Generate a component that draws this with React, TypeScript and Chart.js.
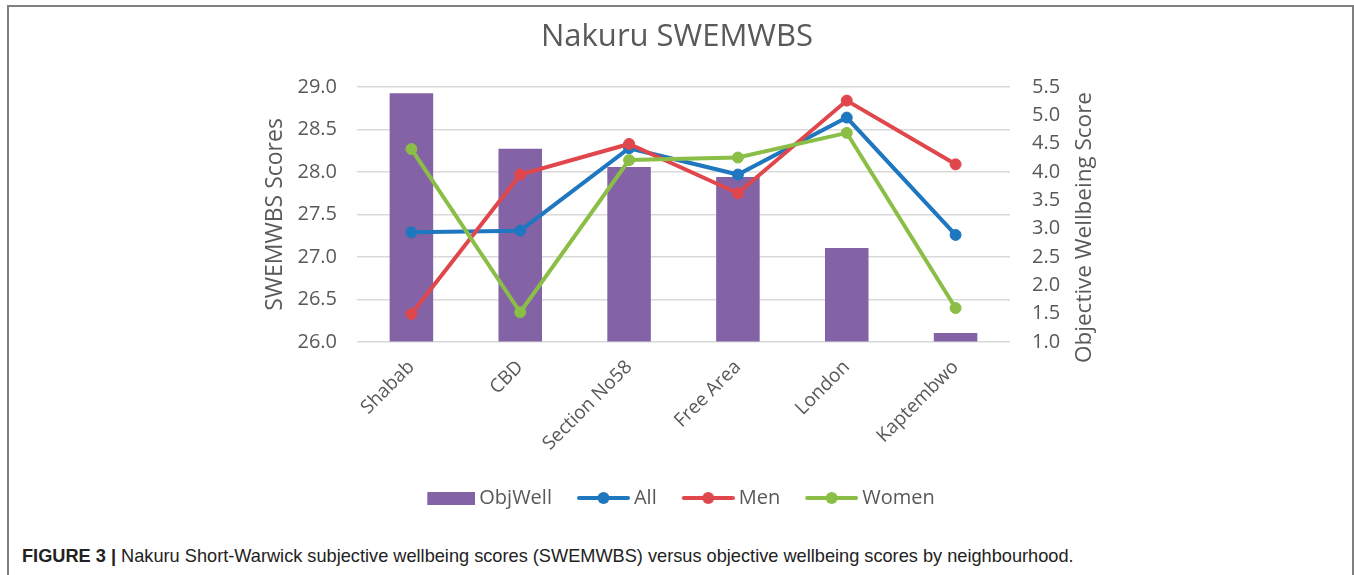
import React, { useEffect, useRef } from 'react';
import { Chart, registerables } from 'chart.js';

Chart.register(...registerables);

const categories = ['Shabab', 'CBD', 'Section No58', 'Free Area', 'London', 'Kaptembwo'];
const objWell = [5.39, 4.41, 4.09, 3.91, 2.66, 1.16];
const allScores = [27.29, 27.31, 28.28, 27.97, 28.64, 27.26];
const menScores = [26.33, 27.97, 28.33, 27.75, 28.84, 28.09];
const womenScores = [28.27, 26.35, 28.14, 28.17, 28.46, 26.4];
const leftTicks = [26.0, 26.5, 27.0, 27.5, 28.0, 28.5, 29.0];
const rightTicks = [1.0, 1.5, 2.0, 2.5, 3.0, 3.5, 4.0, 4.5, 5.0, 5.5];

const PURPLE = '#8462a6';
const BLUE = '#1f77c0';
const RED = '#e0474c';
const GREEN = '#8bbe46';
const TEXT = '#595959';
const FONT = "'Open Sans', sans-serif";
const RIGHT_TITLE = 'Objective Wellbeing Score';

function makeMarker(kind: string, color: string, totalW: number, markerW: number, h: number) {
  const c = document.createElement('canvas');
  c.width = totalW;
  c.height = h;
  const ctx = c.getContext('2d')!;
  const x0 = totalW - markerW;
  if (kind === 'bar') {
    ctx.fillStyle = color;
    ctx.fillRect(x0, Math.round((h - 13) / 2), markerW, 13);
  } else {
    ctx.strokeStyle = color;
    ctx.lineWidth = 4;
    ctx.lineCap = 'round';
    ctx.beginPath();
    ctx.moveTo(x0 + 2, h / 2);
    ctx.lineTo(totalW - 2, h / 2);
    ctx.stroke();
    ctx.fillStyle = color;
    ctx.beginPath();
    ctx.arc(x0 + markerW / 2, h / 2, 6, 0, Math.PI * 2);
    ctx.fill();
  }
  return c;
}

const rightTitlePlugin = {
  id: 'rightTitle',
  afterDraw(chart: any) {
    const s = chart.scales.y1;
    if (!s) return;
    const ctx = chart.ctx;
    ctx.save();
    ctx.fillStyle = TEXT;
    ctx.font = `22.5px ${FONT}`;
    ctx.textAlign = 'center';
    ctx.textBaseline = 'middle';
    ctx.translate(s.right - 19, (chart.chartArea.top + chart.chartArea.bottom) / 2 + 13);
    ctx.rotate(-Math.PI / 2);
    ctx.fillText(RIGHT_TITLE, 0, 0);
    ctx.restore();
  },
};

export default function App() {
  const ref = useRef<HTMLCanvasElement | null>(null);

  useEffect(() => {
    if (!ref.current) return;
    const B = 50;
    const imgW = B + 12;
    const legendDefs = [
      { text: 'ObjWell', img: makeMarker('bar', PURPLE, imgW, 48, 20), ds: 0 },
      { text: 'All', img: makeMarker('line', BLUE, imgW, 53, 20), ds: 1 },
      { text: 'Men', img: makeMarker('line', RED, imgW, 53, 20), ds: 2 },
      { text: 'Women', img: makeMarker('line', GREEN, imgW, 53, 20), ds: 3 },
    ];
    const lineDs = (label: string, data: number[], color: string, order: number) => ({
      type: 'line' as const,
      label,
      data,
      yAxisID: 'y',
      borderColor: color,
      backgroundColor: color,
      borderWidth: 4,
      pointRadius: 5.5,
      pointBorderWidth: 1,
      pointBackgroundColor: color,
      pointBorderColor: color,
      tension: 0,
      order,
    });
    const chart = new Chart(ref.current, {
      type: 'bar',
      data: {
        labels: categories,
        datasets: [
          {
            type: 'bar',
            label: 'ObjWell',
            data: objWell,
            yAxisID: 'y1',
            backgroundColor: PURPLE,
            borderWidth: 0,
            barPercentage: 0.4,
            categoryPercentage: 1,
            base: 1,
            order: 3,
          } as any,
          lineDs('All', allScores, BLUE, 2),
          lineDs('Men', menScores, RED, 1),
          lineDs('Women', womenScores, GREEN, 0),
        ],
      },
      plugins: [rightTitlePlugin],
      options: {
        responsive: false,
        animation: false,
        layout: { padding: { left: 250, right: 250, top: 0, bottom: 12 } },
        plugins: {
          tooltip: { enabled: false },
          title: {
            display: true,
            text: 'Nakuru SWEMWBS',
            color: TEXT,
            font: { family: FONT, size: 31, weight: 'normal' },
            padding: { top: 18.4, bottom: 31.4 },
          },
          legend: {
            display: true,
            position: 'bottom',
            labels: {
              usePointStyle: true,
              pointStyleWidth: B,
              padding: 22,
              color: TEXT,
              font: { family: FONT, size: 20 },
              generateLabels: () =>
                legendDefs.map((d) => ({
                  text: d.text,
                  pointStyle: d.img as any,
                  fillStyle: 'transparent',
                  strokeStyle: 'transparent',
                  lineWidth: 0,
                  hidden: false,
                  datasetIndex: d.ds,
                  fontColor: TEXT,
                })),
            },
          },
        },
        scales: {
          x: {
            grid: { display: false },
            border: { display: false },
            ticks: {
              color: TEXT,
              font: { family: FONT, size: 19 },
              minRotation: 45,
              maxRotation: 45,
              padding: 6,
            },
            afterFit: (s: any) => {
              s.height = 124;
            },
          },
          y: {
            position: 'left',
            min: 26,
            max: 29,
            afterBuildTicks: (s: any) => {
              s.ticks = leftTicks.map((v) => ({ value: v }));
            },
            ticks: {
              color: TEXT,
              font: { family: FONT, size: 20 },
              padding: 20,
              callback: (v: any) => Number(v).toFixed(1),
            },
            grid: { color: '#d9d9d9', lineWidth: 1.5, drawTicks: false },
            border: { display: false },
            title: {
              display: true,
              text: 'SWEMWBS Scores',
              color: TEXT,
              font: { family: FONT, size: 23 },
              padding: { top: 11.2, bottom: 0 },
            },
            afterFit: (s: any) => {
              s.width = 107;
            },
          },
          y1: {
            position: 'right',
            min: 1,
            max: 5.5,
            afterBuildTicks: (s: any) => {
              s.ticks = rightTicks.map((v) => ({ value: v }));
            },
            ticks: {
              color: TEXT,
              font: { family: FONT, size: 20 },
              padding: 22,
              callback: (v: any) => Number(v).toFixed(1),
            },
            grid: { drawOnChartArea: false, drawTicks: false },
            border: { display: false },
            title: { display: false },
            afterFit: (s: any) => {
              s.width = 94;
            },
          },
        },
      } as any,
    });
    return () => chart.destroy();
  }, []);

  return (
    <div style={{ position: 'absolute', left: 0, top: 0, width: 1354, height: 575, overflow: 'hidden', background: '#fff' }}>
      <div
        style={{
          position: 'absolute',
          left: 7,
          top: 5,
          width: 1347,
          height: 570,
          boxSizing: 'border-box',
          borderTop: '2px solid #7f7f7f',
          borderLeft: '2px solid #7f7f7f',
          borderRight: '2px solid #7f7f7f',
        }}
      />
      <canvas ref={ref} width={1354} height={530} style={{ position: 'absolute', left: 0, top: 0 }} />
      <div
        style={{
          position: 'absolute',
          left: 22,
          top: 546,
          fontFamily: "'Liberation Sans', Arial, sans-serif",
          fontSize: 18.2,
          color: '#222',
          whiteSpace: 'nowrap',
          lineHeight: '20px',
        }}
      >
        <b>FIGURE 3 |</b> Nakuru Short-Warwick subjective wellbeing scores (SWEMWBS) versus objective wellbeing scores by neighbourhood.
      </div>
    </div>
  );
}
